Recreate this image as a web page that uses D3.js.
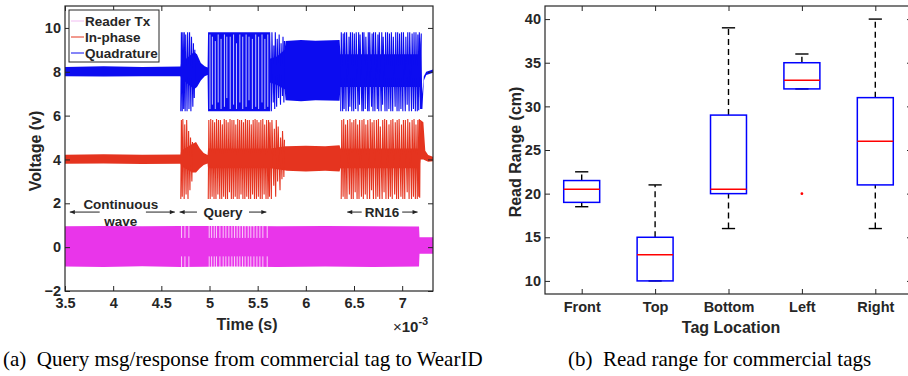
<!DOCTYPE html>
<html>
<head>
<meta charset="utf-8">
<script src="https://cdn.jsdelivr.net/npm/d3@7"></script>
<style>
  body { margin: 0; background: #fff; }
  text { font-family: "Liberation Sans", Arial, sans-serif; fill: #262626; }
  text.caption { font-family: "Liberation Serif", "Times New Roman", serif; fill: #000; }
</style>
</head>
<body>
<script>
// ---- (a) signal traces: envelope points [t, low, high] ----
let txEnvelope = [[3.5, -0.88, 0.95], [3.9, -0.9, 0.97], [4.3, -0.87, 0.95], [4.7, -0.9, 0.96], [5.2, -0.88, 0.97],
    [5.7, -0.9, 0.95], [6.2, -0.88, 0.96], [6.7, -0.9, 0.95], [7.175, -0.88, 0.94], [7.18, -0.3, 0.45], [7.32, -0.3, 0.45]]
let txGaps = [4.71, 4.745, 4.786, 4.997, 5.022, 5.049, 5.073, 5.108, 5.142, 5.17, 5.201, 5.232, 5.26, 5.287,
    5.315, 5.343, 5.37, 5.402, 5.429, 5.461, 5.492, 5.523, 5.554, 5.599]
let txGapBands = [[0.42, 1.0], [-0.95, -0.42]]

let inEnvelope = [[3.5, 3.8, 4.22], [3.9, 3.82, 4.24], [4.3, 3.79, 4.22], [4.7, 3.8, 4.23],
    [4.705, 3.7, 4.4], [4.82, 3.4, 4.7], [4.86, 3.4, 4.8], [4.9, 3.6, 4.5], [4.94, 3.75, 4.3], [4.98, 3.82, 4.2],
    [4.985, 3.6, 4.5], [5.63, 3.6, 4.5], [5.635, 3.6, 4.5], [5.79, 3.5, 4.6],
    [5.8, 3.48, 4.6], [6.0, 3.45, 4.62], [6.2, 3.48, 4.6], [6.35, 3.45, 4.65],
    [6.36, 3.6, 4.5], [7.18, 3.6, 4.5], [7.19, 4.0, 5.8], [7.22, 4.0, 5.7], [7.24, 3.95, 4.4], [7.27, 3.9, 4.2], [7.32, 3.92, 4.12]]
let inSpikes = [[4.705, 2.2, 5.8], [4.72, 2.3, 5.85], [4.74, 2.2, 5.6], [4.76, 2.4, 5.8], [4.78, 2.2, 5.3], [4.8, 2.6, 5.0], [4.82, 3.0, 4.8],
    [4.99, 2.2, 5.8], [5.01, 2.2, 5.85], [5.03, 2.3, 5.8], [5.05, 2.2, 5.7], [5.07, 2.2, 5.85], [5.09, 2.4, 5.8],
    [5.11, 2.2, 5.8], [5.13, 2.2, 5.6], [5.15, 2.3, 5.85], [5.17, 2.2, 5.8], [5.19, 2.2, 5.7], [5.21, 2.5, 5.85],
    [5.23, 2.2, 5.8], [5.25, 2.2, 5.8], [5.27, 2.3, 5.6], [5.29, 2.2, 5.85], [5.31, 2.2, 5.8], [5.33, 2.4, 5.8],
    [5.35, 2.2, 5.7], [5.37, 2.2, 5.85], [5.39, 2.3, 5.8], [5.41, 2.2, 5.8], [5.43, 2.2, 5.6], [5.45, 2.4, 5.8],
    [5.47, 2.2, 5.85], [5.49, 2.2, 5.8], [5.51, 2.3, 5.7], [5.53, 2.2, 5.8], [5.55, 2.2, 5.85], [5.57, 2.4, 5.6],
    [5.59, 2.2, 5.8], [5.61, 2.2, 5.8], [5.625, 2.3, 5.7],
    [5.645, 2.2, 5.8], [5.67, 2.8, 5.4], [5.69, 2.3, 5.8], [5.71, 3.0, 5.5], [5.735, 2.6, 5.0], [5.755, 3.1, 5.3], [5.775, 3.2, 4.9],
    [6.37, 2.2, 5.8], [6.39, 2.3, 5.85], [6.41, 2.2, 5.6], [6.43, 2.2, 5.8], [6.455, 2.4, 5.85], [6.475, 2.2, 5.7],
    [6.495, 2.2, 5.8], [6.515, 2.5, 5.85], [6.535, 2.2, 5.6], [6.555, 2.2, 5.8], [6.58, 2.3, 5.8], [6.6, 2.2, 5.85],
    [6.62, 2.4, 5.6], [6.64, 2.2, 5.8], [6.665, 2.2, 5.85], [6.685, 2.6, 5.7], [6.705, 2.2, 5.8], [6.73, 2.2, 5.8],
    [6.75, 2.3, 5.85], [6.77, 2.2, 5.5], [6.795, 2.2, 5.8], [6.815, 2.5, 5.85], [6.835, 2.2, 5.8], [6.86, 2.2, 5.6],
    [6.88, 2.3, 5.8], [6.9, 2.2, 5.85], [6.925, 2.4, 5.7], [6.945, 2.2, 5.8], [6.965, 2.2, 5.85], [6.99, 2.3, 5.6],
    [7.01, 2.2, 5.8], [7.03, 2.2, 5.8], [7.055, 2.5, 5.85], [7.075, 2.2, 5.7], [7.1, 2.2, 5.8], [7.12, 2.3, 5.85],
    [7.14, 2.2, 5.6], [7.16, 2.2, 5.8], [7.175, 2.3, 5.85], [7.185, 2.25, 5.8]]

let quadEnvelope = [[3.5, 7.8, 8.22], [3.9, 7.78, 8.25], [4.3, 7.8, 8.22], [4.7, 7.79, 8.24],
    [4.705, 7.7, 8.4], [4.84, 7.2, 8.9], [4.87, 7.3, 8.8], [4.91, 7.6, 8.4], [4.95, 7.8, 8.25], [4.98, 7.85, 8.2],
    [4.985, 6.2, 9.8], [5.63, 6.2, 9.8], [5.635, 7.5, 8.6], [5.7, 7.4, 8.7], [5.78, 7.2, 9.0],
    [5.79, 6.7, 9.4], [5.95, 6.65, 9.45], [6.1, 6.7, 9.42], [6.35, 6.68, 9.45],
    [6.36, 7.3, 8.8], [7.18, 7.3, 8.8], [7.19, 6.3, 9.7], [7.21, 6.3, 7.0], [7.225, 7.6, 7.8], [7.25, 7.85, 8.0], [7.32, 7.95, 8.1]]
let quadSpikes = [[4.705, 6.2, 9.8], [4.72, 6.2, 9.8], [4.735, 6.3, 9.8], [4.75, 6.2, 9.7], [4.77, 6.2, 9.8],
    [4.79, 6.3, 9.8], [4.81, 6.2, 9.6], [4.83, 6.4, 9.3], [4.845, 6.8, 9.0],
    [5.645, 6.2, 9.8], [5.665, 6.6, 9.2], [5.68, 6.3, 9.8], [5.7, 6.4, 9.5], [5.72, 6.8, 9.7], [5.74, 6.5, 9.3], [5.76, 6.9, 9.6], [5.775, 6.6, 9.4],
    [6.365, 6.2, 9.8], [6.385, 6.2, 9.75], [6.4, 6.3, 9.8], [6.42, 6.2, 9.8], [6.445, 6.2, 9.6], [6.46, 6.4, 9.8],
    [6.48, 6.2, 9.8], [6.5, 6.2, 9.75], [6.52, 6.3, 9.8], [6.545, 6.2, 9.8], [6.56, 6.5, 9.7], [6.585, 6.2, 9.8],
    [6.6, 6.2, 9.8], [6.62, 6.3, 9.6], [6.645, 6.2, 9.8], [6.66, 6.2, 9.8], [6.685, 6.4, 9.75], [6.7, 6.2, 9.8],
    [6.72, 6.2, 9.8], [6.745, 6.3, 9.7], [6.76, 6.2, 9.8], [6.785, 6.2, 9.8], [6.8, 6.5, 9.6], [6.825, 6.2, 9.8],
    [6.845, 6.2, 9.8], [6.865, 6.3, 9.75], [6.885, 6.2, 9.8], [6.905, 6.2, 9.6], [6.93, 6.4, 9.8], [6.95, 6.2, 9.8],
    [6.97, 6.2, 9.75], [6.99, 6.3, 9.8], [7.01, 6.2, 9.8], [7.035, 6.2, 9.6], [7.055, 6.5, 9.8], [7.075, 6.2, 9.8],
    [7.1, 6.2, 9.75], [7.12, 6.3, 9.8], [7.14, 6.2, 9.8], [7.16, 6.2, 9.7], [7.175, 6.25, 9.8], [7.195, 6.3, 9.75]]
let quadGaps = [[5.005, 6.3, 9.7], [5.03, 6.5, 9.6], [5.06, 6.3, 9.4], [5.09, 6.6, 9.7], [5.12, 6.3, 9.5],
    [5.155, 6.4, 9.7], [5.18, 6.8, 9.6], [5.215, 6.3, 9.6], [5.25, 6.5, 9.7], [5.28, 6.3, 9.3], [5.315, 6.6, 9.7],
    [5.345, 6.3, 9.6], [5.38, 6.4, 9.7], [5.41, 6.7, 9.6], [5.445, 6.3, 9.5], [5.48, 6.4, 9.7], [5.51, 6.3, 9.6],
    [5.545, 6.6, 9.7], [5.575, 6.3, 9.5], [5.605, 6.4, 9.7]]

let seriesNames = ['Reader Tx', 'In-phase', 'Quadrature']
let timeTicks = [3.5, 4, 4.5, 5, 5.5, 6, 6.5, 7]
let voltTicks = [-2, 0, 2, 4, 6, 8, 10]
// annotation arrows: [arrow tail t, arrow head t] at one voltage level
let annoArrows = [[3.86, 3.55], [4.34, 4.64], [4.87, 4.69], [5.41, 5.59], [6.58, 6.43], [7.0, 7.16]]
let annoTexts = [['Continuous', 4.08, 1.97], ['wave', 4.08, 1.2], ['Query', 5.14, 1.6], ['RN16', 6.79, 1.6]]
let annoLevel = 1.6

// ---- (b) read range box plot ----
let categories = ['Front', 'Top', 'Bottom', 'Left', 'Right']
let q1 = [19, 10, 20, 32, 21]
let q3 = [21.5, 15, 29, 35, 31]
let medians = [20.5, 13, 20.5, 33, 26]
let whiskerLo = [18.5, 10, 16, 32, 16]
let whiskerHi = [22.5, 21, 39, 36, 40]
let outliers = [['Left', 20]]
let rangeTicks = [10, 15, 20, 25, 30, 35, 40]

let colors = { tx: '#e935ea', txLegend: '#f2bdf2', inph: '#e5341f', quad: '#0c0cf0', frame: '#262626' }

let svg = d3.select('body').append('svg')
    .attr('width', 908).attr('height', 376)
    .style('display', 'block')

// ================= panel (a) =================
let x1 = d3.scaleLinear().domain([3.5, 7.32]).range([65, 433])
let y1 = d3.scaleLinear().domain([-2, 11]).range([291, 6])

svg.append('clipPath').attr('id', 'clipA')
    .append('rect').attr('x', 65).attr('y', 6).attr('width', 368).attr('height', 285)

let pa = svg.append('g').attr('clip-path', 'url(#clipA)')

let band = d3.area()
    .x(function (d) { return x1(d[0]) })
    .y0(function (d) { return y1(d[1]) })
    .y1(function (d) { return y1(d[2]) })
let trace = d3.line()
    .x(function (d) { return x1(d[0]) })
    .y(function (d) { return y1(d[1]) })

// spikes become a zigzag trace, broken where the bursts stop
function zigzag(spikes) {
    let runs = [], run = []
    spikes.forEach(function (s, i) {
        if (i > 0 && s[0] - spikes[i - 1][0] > 0.05) { runs.push(run); run = [] }
        run.push([s[0] - 0.003, s[1]], [s[0] + 0.003, s[2]])
    })
    if (run.length) runs.push(run)
    return runs
}

function drawTrace(env, spikes, gaps, color) {
    pa.append('path').datum(env).attr('d', band).attr('fill', color)
    pa.append('g').selectAll('path').data(zigzag(spikes)).join('path')
        .attr('d', trace).attr('fill', 'none')
        .attr('stroke', color).attr('stroke-width', 1.1).attr('stroke-linejoin', 'bevel')
    pa.append('g').selectAll('line').data(gaps).join('line')
        .attr('x1', d => x1(d[0])).attr('x2', d => x1(d[0]))
        .attr('y1', d => y1(d[1])).attr('y2', d => y1(d[2]))
        .attr('stroke', '#fff').attr('stroke-width', 0.9).attr('stroke-opacity', 0.85)
}

let txGapLines = []
txGaps.forEach(t => txGapBands.forEach(b => txGapLines.push([t, b[0], b[1]])))
drawTrace(txEnvelope, [], txGapLines, colors.tx)
drawTrace(inEnvelope, inSpikes, [], colors.inph)
drawTrace(quadEnvelope, quadSpikes, quadGaps, colors.quad)

// axes with inward ticks on all four sides
function styleAxis(g) {
    g.select('.domain').remove()
    g.selectAll('line').attr('stroke', colors.frame)
    g.selectAll('text').attr('font-size', '14.5px').attr('font-weight', 'bold').attr('fill', colors.frame)
}

svg.append('g').attr('transform', 'translate(0,291)')
    .call(d3.axisBottom(x1).tickValues(timeTicks).tickSizeInner(-5).tickSizeOuter(0).tickPadding(7).tickFormat(d3.format('')))
    .call(styleAxis)
svg.append('g').attr('transform', 'translate(0,6)')
    .call(d3.axisTop(x1).tickValues(timeTicks).tickSizeInner(-5).tickSizeOuter(0).tickFormat(''))
    .call(styleAxis)
svg.append('g').attr('transform', 'translate(65,0)')
    .call(d3.axisLeft(y1).tickValues(voltTicks).tickSizeInner(-5).tickSizeOuter(0).tickPadding(4))
    .call(styleAxis)
svg.append('g').attr('transform', 'translate(433,0)')
    .call(d3.axisRight(y1).tickValues(voltTicks).tickSizeInner(-5).tickSizeOuter(0).tickFormat(''))
    .call(styleAxis)

svg.append('rect').attr('x', 65).attr('y', 6).attr('width', 368).attr('height', 285)
    .attr('fill', 'none').attr('stroke', colors.frame).attr('stroke-width', 1.2)

svg.append('text').attr('x', 247).attr('y', 330).attr('text-anchor', 'middle')
    .attr('font-size', '16px').attr('font-weight', 'bold').text('Time (s)')
let expo = svg.append('text').attr('x', 393).attr('y', 332).attr('font-size', '15px').attr('font-weight', 'bold')
expo.append('tspan').attr('font-weight', 'normal').text('\u00d7')
expo.append('tspan').text('10')
expo.append('tspan').attr('dy', -7).attr('font-size', '11px').text('-3')

svg.append('text').attr('transform', 'translate(41,151) rotate(-90)').attr('text-anchor', 'middle')
    .attr('font-size', '16px').attr('font-weight', 'bold').text('Voltage (v)')

// annotations
let anno = svg.append('g')
anno.selectAll('line').data(annoArrows).join('line')
    .attr('x1', d => x1(d[0])).attr('x2', d => x1(d[1]))
    .attr('y1', y1(annoLevel)).attr('y2', y1(annoLevel))
    .attr('stroke', '#222').attr('stroke-width', 1)
anno.selectAll('path').data(annoArrows).join('path')
    .attr('d', function (d) {
        let hx = x1(d[1]), yy = y1(annoLevel), s = d[1] > d[0] ? -1 : 1
        return 'M' + hx + ',' + yy + 'L' + (hx + s * 5) + ',' + (yy - 2.2) + 'L' + (hx + s * 5) + ',' + (yy + 2.2) + 'Z'
    })
    .attr('fill', '#222')
anno.selectAll('text').data(annoTexts).join('text')
    .attr('x', d => x1(d[1])).attr('y', d => y1(d[2]) + 5)
    .attr('text-anchor', 'middle').attr('font-size', '13.5px').attr('font-weight', 'bold')
    .text(d => d[0])

// legend
let lg = svg.append('g')
lg.append('rect').attr('x', 69).attr('y', 10).attr('width', 90).attr('height', 52)
    .attr('fill', '#fff').attr('stroke', colors.frame).attr('stroke-width', 1)
let legendColors = [colors.txLegend, colors.inph, colors.quad]
seriesNames.forEach(function (name, i) {
    let yy = 21 + i * 16
    lg.append('line').attr('x1', 71).attr('x2', 84).attr('y1', yy).attr('y2', yy)
        .attr('stroke', legendColors[i]).attr('stroke-width', 1)
    lg.append('text').attr('x', 85).attr('y', yy + 5).attr('font-size', '13.5px').attr('font-weight', 'bold').text(name)
})

// ================= panel (b) =================
let x2 = d3.scaleLinear().domain([0.5, 5.5]).range([545, 912])
let y2 = d3.scaleLinear().domain([8.5, 41.5]).range([294, 6])
let catPos = d3.scaleOrdinal().domain(categories).range([1, 2, 3, 4, 5])
let boxHalf = 0.245, capHalf = 0.09

svg.append('g').attr('transform', 'translate(0,294)')
    .call(d3.axisBottom(x2).tickValues([1, 2, 3, 4, 5]).tickSizeInner(-5).tickSizeOuter(0).tickPadding(8)
        .tickFormat(d => categories[d - 1]))
    .call(styleAxis)
svg.append('g').attr('transform', 'translate(0,6)')
    .call(d3.axisTop(x2).tickValues([1, 2, 3, 4, 5]).tickSizeInner(-5).tickSizeOuter(0).tickFormat(''))
    .call(styleAxis)
svg.append('g').attr('transform', 'translate(545,0)')
    .call(d3.axisLeft(y2).tickValues(rangeTicks).tickSizeInner(-5).tickSizeOuter(0).tickPadding(4))
    .call(styleAxis)
svg.append('g').attr('transform', 'translate(912,0)')
    .call(d3.axisRight(y2).tickValues(rangeTicks).tickSizeInner(-5).tickSizeOuter(0).tickFormat(''))
    .call(styleAxis)
svg.append('rect').attr('x', 545).attr('y', 6).attr('width', 367).attr('height', 288)
    .attr('fill', 'none').attr('stroke', colors.frame).attr('stroke-width', 1.2)

let boxes = svg.append('g').selectAll('g').data(categories).join('g')
boxes.each(function (c, i) {
    let g = d3.select(this), cx = x2(catPos(c))
    g.append('line').attr('x1', cx).attr('x2', cx).attr('y1', y2(q3[i])).attr('y2', y2(whiskerHi[i]))
        .attr('stroke', '#000').attr('stroke-width', 1.4).attr('stroke-dasharray', '6,4')
    g.append('line').attr('x1', cx).attr('x2', cx).attr('y1', y2(whiskerLo[i])).attr('y2', y2(q1[i]))
        .attr('stroke', '#000').attr('stroke-width', 1.4).attr('stroke-dasharray', '6,4')
    ;[whiskerLo[i], whiskerHi[i]].forEach(function (v) {
        g.append('line').attr('x1', x2(catPos(c) - capHalf)).attr('x2', x2(catPos(c) + capHalf))
            .attr('y1', y2(v)).attr('y2', y2(v)).attr('stroke', '#000').attr('stroke-width', 1.4)
    })
    g.append('rect').attr('x', x2(catPos(c) - boxHalf)).attr('y', y2(q3[i]))
        .attr('width', x2(catPos(c) + boxHalf) - x2(catPos(c) - boxHalf)).attr('height', y2(q1[i]) - y2(q3[i]))
        .attr('fill', 'none').attr('stroke', '#0000ff').attr('stroke-width', 1.5)
    g.append('line').attr('x1', x2(catPos(c) - boxHalf)).attr('x2', x2(catPos(c) + boxHalf))
        .attr('y1', y2(medians[i])).attr('y2', y2(medians[i])).attr('stroke', '#ff0000').attr('stroke-width', 1.5)
})
svg.append('g').selectAll('circle').data(outliers).join('circle')
    .attr('cx', d => x2(catPos(d[0]))).attr('cy', d => y2(d[1])).attr('r', 1.4).attr('fill', '#ff0000')

svg.append('text').attr('x', 731).attr('y', 333).attr('text-anchor', 'middle')
    .attr('font-size', '16px').attr('font-weight', 'bold').text('Tag Location')
svg.append('text').attr('transform', 'translate(521,152) rotate(-90)').attr('text-anchor', 'middle')
    .attr('font-size', '16px').attr('font-weight', 'bold').text('Read Range (cm)')

// ================= captions =================
svg.append('text').attr('class', 'caption').attr('x', 3).attr('y', 366)
    .attr('font-size', '21px').text('(a)\u2002Query msg/response from commercial tag to WearID')
svg.append('text').attr('class', 'caption').attr('x', 568).attr('y', 366)
    .attr('font-size', '21px').text('(b)\u2002Read range for commercial tags')
</script>
</body>
</html>
